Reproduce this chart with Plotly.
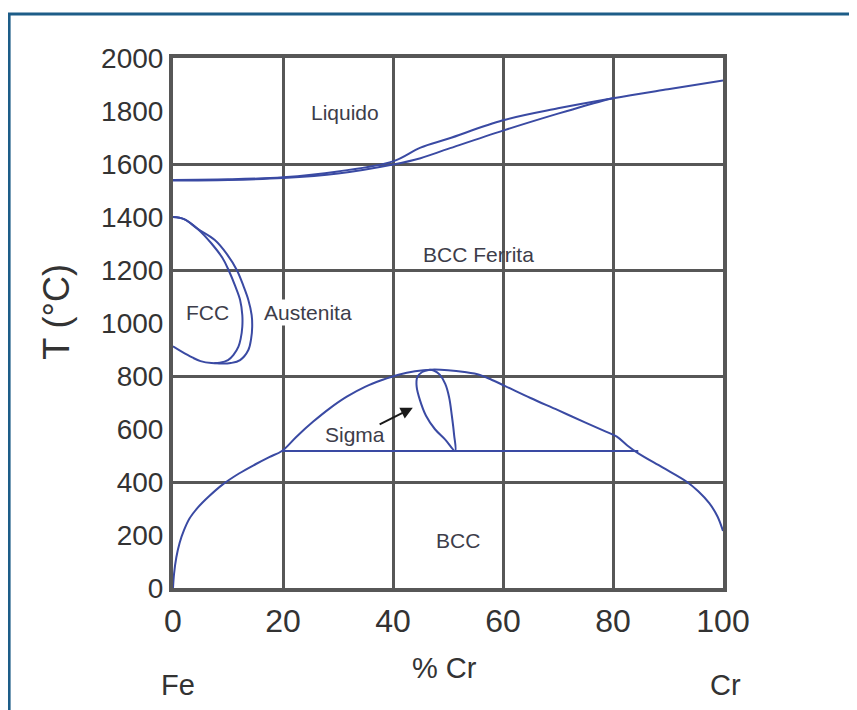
import plotly.graph_objects as go

# ---- data (wt% Cr, T in °C) ----
liq_x = [0, 10, 20, 30, 40, 45, 50, 60, 70, 80, 90, 100]
liq_t = [1540, 1542, 1550, 1572, 1610, 1662, 1695, 1765, 1810, 1848, 1882, 1915]
sol_x = [0, 10, 20, 30, 40, 45, 50, 60, 70, 78, 80]
sol_t = [1538, 1540, 1547, 1564, 1598, 1622, 1657, 1726, 1790, 1838, 1848]

gin_x = [0, 2, 4.5, 7, 9, 10.1, 11.3, 12.2, 12.6, 12.6, 12.3, 11.9, 11, 10, 8.5, 7, 5, 3.5, 1.5, 0]
gin_t = [1400, 1392, 1355, 1300, 1245, 1200, 1140, 1087, 1030, 986, 940, 911, 880, 860, 850, 849, 856, 870, 893, 912]
gout_x = [0, 2, 4.5, 7.6, 9.8, 11.6, 12.8, 13.7, 14.3, 14.4, 14.2, 13.7, 12.2, 10.5, 9, 7.5]
gout_t = [1400, 1392, 1355, 1313, 1260, 1200, 1140, 1087, 1030, 986, 940, 898, 860, 849, 847, 849]

dome_x = [0, 0.2, 0.6, 1.2, 2, 3, 4.5, 6.5, 9, 12, 15, 17.5, 19.8, 22.5, 25.5, 28.5, 31.6, 35,
          38, 41, 44, 47, 50, 53, 55.8, 58, 60.4, 65, 70, 75, 78.5, 80.7, 82.6, 84.6, 89, 93.4,
          95.5, 97.5, 99, 100]
dome_t = [0, 55, 115, 170, 218, 262, 303, 345, 390, 432, 467, 494, 517, 572, 628, 678, 722, 760,
          785, 805, 818, 824, 822, 815, 804, 785, 762, 717, 671, 624, 592, 571, 538, 508, 455, 401,
          365, 320, 270, 215]

sig_x = [51.3, 49.5, 47.6, 46, 44.9, 44.3, 44.4, 45.3, 46.5, 47.5, 48.5, 49.5, 50.2, 50.7, 51.1, 51.3]
sig_t = [517, 560, 600, 650, 709, 760, 795, 815, 823, 820, 805, 770, 720, 650, 580, 517]

eut_x = [19.8, 84.6]
eut_t = [517, 517]

label_text = ["Liquido", "BCC Ferrita", "FCC", "Austenita", "Sigma", "BCC"]
label_x = [31.3, 55.5, 6.2, 24.5, 33.1, 51.8]
label_t = [1796, 1260, 1038, 1038, 581, 181]

x_ticks = [0, 20, 40, 60, 80, 100]
y_ticks = [0, 200, 400, 600, 800, 1000, 1200, 1400, 1600, 1800, 2000]
y_grid = [400, 800, 1200, 1600]

BLUE = "#3a4aa3"
GRID = "#575757"
FONT = "Liberation Sans, Arial, sans-serif"

fig = go.Figure()
for xs, ts in [(liq_x, liq_t), (sol_x, sol_t), (gin_x, gin_t), (gout_x, gout_t),
               (dome_x, dome_t), (sig_x, sig_t), (eut_x, eut_t)]:
    fig.add_trace(go.Scatter(x=xs, y=ts, mode="lines",
                             line=dict(color=BLUE, width=2, shape="spline", smoothing=1.0),
                             hoverinfo="skip", showlegend=False))

for t, x, y in zip(label_text, label_x, label_t):
    fig.add_annotation(x=x, y=y, text=t, showarrow=False, xref="x", yref="y",
                       font=dict(family=FONT, size=21, color="#3d3d4a"),
                       bgcolor="white" if t == "Austenita" else None)

# Sigma arrow
fig.add_annotation(x=43.6, y=680, ax=37.3, ay=615, xref="x", yref="y", axref="x", ayref="y",
                   text="", showarrow=True, arrowhead=2, arrowsize=1.2, arrowwidth=2, arrowcolor="#1a1a1a")

# axis titles and end labels
common = dict(xref="paper", yref="paper", showarrow=False, xanchor="center", yanchor="middle")
fig.add_annotation(x=0.493, y=-0.151, text="% Cr", font=dict(family=FONT, size=29, color="#333"), **common)
fig.add_annotation(x=0.009, y=-0.183, text="Fe", font=dict(family=FONT, size=29, color="#333"), **common)
fig.add_annotation(x=1.005, y=-0.183, text="Cr", font=dict(family=FONT, size=29, color="#333"), **common)
fig.add_annotation(x=-0.211, y=0.521, text="T (°C)", textangle=-90,
                   font=dict(family=FONT, size=36, color="#333"), **common)

# outer frame
fig.add_shape(type="path", xref="paper", yref="paper",
              path="M 1.3 1.083 L -0.298 1.083 L -0.298 -0.3",
              line=dict(color="#1d5d88", width=3))

fig.update_xaxes(range=[0, 100], tickvals=x_ticks, showgrid=True, gridcolor=GRID, gridwidth=3,
                 showline=True, linecolor=GRID, linewidth=4, mirror=True, zeroline=False,
                 ticks="", ticklabelstandoff=2,
                 tickfont=dict(family=FONT, size=32, color="#333"))
fig.update_yaxes(range=[0, 2000], tickvals=y_ticks, showgrid=False,
                 minor=dict(tickvals=y_grid, showgrid=True, gridcolor=GRID, gridwidth=3, ticks=""),
                 showline=True, linecolor=GRID, linewidth=4, mirror=True, zeroline=False,
                 ticks="", ticklabelstandoff=0,
                 tickfont=dict(family=FONT, size=28, color="#333"))

# page body has an 8px margin, so the figure is sized/offset to compensate
fig.update_layout(width=849, height=702, margin=dict(l=165, r=134, t=50, b=122),
                  plot_bgcolor="white", paper_bgcolor="white")

fig.write_html("out.html")
